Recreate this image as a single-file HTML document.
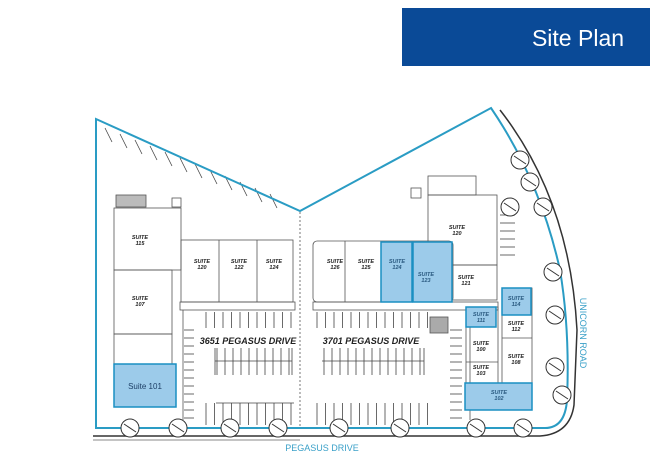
<!DOCTYPE html>
<html><head><meta charset="utf-8"><style>
html,body{margin:0;padding:0;background:#fff;width:650px;height:468px;overflow:hidden}
svg{display:block}
.s{font-family:"Liberation Sans",sans-serif;font-style:italic;font-weight:bold;font-size:5.5px;fill:#222;text-anchor:middle}
.sb{font-family:"Liberation Sans",sans-serif;font-style:italic;font-weight:bold;font-size:5.5px;fill:#2a5a80;text-anchor:middle}
</style></head><body>
<svg id="g" width="650" height="468" viewBox="0 0 650 468" xmlns="http://www.w3.org/2000/svg">
<rect x="402" y="8" width="248" height="58" fill="#0a4a97"/>
<text x="578" y="46" font-family="Liberation Sans,sans-serif" font-size="23" fill="#fff" text-anchor="middle">Site Plan</text>

<!-- outer black road edge -->
<path d="M93 436 L540 436 Q570 434 574 405 L577 330 Q570 200 500 110" fill="none" stroke="#333" stroke-width="1.5"/>
<line x1="93" y1="440" x2="300" y2="440" stroke="#888" stroke-width="1"/>

<g fill="none" stroke="#555" stroke-width="0.8">
<!-- buildings -->
<rect x="114" y="208" width="67" height="62"/>
<rect x="114" y="270" width="58" height="64"/>
<rect x="114" y="334" width="58" height="30"/>
<rect x="181" y="240" width="112" height="62"/>
<line x1="219" y1="240" x2="219" y2="302"/><line x1="257" y1="240" x2="257" y2="302"/>
<rect x="313" y="241" width="140" height="61" rx="4"/>
<line x1="345" y1="241" x2="345" y2="302"/>
<rect x="428" y="176" width="48" height="19"/>
<rect x="428" y="195" width="69" height="70"/>
<rect x="452" y="265" width="45" height="35"/>
<rect x="466" y="307" width="32" height="78"/>
<line x1="466" y1="362" x2="498" y2="362"/>
<rect x="502" y="288" width="30" height="95"/>
<line x1="502" y1="338" x2="532" y2="338"/>
<rect x="180" y="302" width="115" height="8"/>
<rect x="313" y="302" width="185" height="8"/>
<line x1="300" y1="212" x2="300" y2="428" stroke-dasharray="2,2"/>
<line x1="183" y1="310" x2="183" y2="420"/>
<line x1="470" y1="325" x2="470" y2="420"/>
<rect x="116" y="195" width="30" height="12" fill="#bbb"/>
<rect x="172" y="198" width="9" height="9"/>
<rect x="411" y="188" width="10" height="10"/>
<rect x="430" y="317" width="18" height="16" fill="#aaa"/>
</g>

<!-- blue suites -->
<g fill="#9ccbea" stroke="#1a8fc2" stroke-width="1.5">
<rect x="114" y="364" width="62" height="43"/>
<rect x="381" y="242" width="31" height="60"/>
<rect x="413" y="242" width="39" height="60"/>
<rect x="502" y="288" width="29" height="27"/>
<rect x="466" y="307" width="30" height="20"/>
<rect x="465" y="383" width="67" height="27"/>
</g>

<g id="lines" stroke="#444" stroke-width="0.8"></g>

<!-- boundary -->
<path d="M96 429 L96 119 L300 211 L491 108 Q540 180 560 270 Q570 330 567 400 Q565 428 545 428 L96 428" fill="none" stroke="#2a9cc4" stroke-width="2"/>

<g id="trees" fill="#fff" stroke="#333" stroke-width="1"></g>

<text class="s" x="140" y="239">SUITE</text><text class="s" x="140" y="245">115</text>
<text class="s" x="140" y="300">SUITE</text><text class="s" x="140" y="306">107</text>
<text class="s" x="202" y="263">SUITE</text><text class="s" x="202" y="269">120</text>
<text class="s" x="239" y="263">SUITE</text><text class="s" x="239" y="269">122</text>
<text class="s" x="274" y="263">SUITE</text><text class="s" x="274" y="269">124</text>
<text class="s" x="335" y="263">SUITE</text><text class="s" x="335" y="269">126</text>
<text class="s" x="366" y="263">SUITE</text><text class="s" x="366" y="269">125</text>
<text class="sb" x="397" y="263">SUITE</text><text class="sb" x="397" y="269">124</text>
<text class="sb" x="426" y="276">SUITE</text><text class="sb" x="426" y="282">123</text>
<text class="s" x="457" y="229">SUITE</text><text class="s" x="457" y="235">120</text>
<text class="s" x="466" y="279">SUITE</text><text class="s" x="466" y="285">121</text>
<text class="sb" x="516" y="300">SUITE</text><text class="sb" x="516" y="306">114</text>
<text class="sb" x="481" y="316">SUITE</text><text class="sb" x="481" y="322">111</text>
<text class="s" x="516" y="325">SUITE</text><text class="s" x="516" y="331">112</text>
<text class="s" x="481" y="345">SUITE</text><text class="s" x="481" y="351">100</text>
<text class="s" x="516" y="358">SUITE</text><text class="s" x="516" y="364">108</text>
<text class="s" x="481" y="369">SUITE</text><text class="s" x="481" y="375">103</text>
<text class="sb" x="499" y="394">SUITE</text><text class="sb" x="499" y="400">102</text>
<text x="145" y="389" font-family="Liberation Sans,sans-serif" font-size="8" fill="#1d3f66" text-anchor="middle">Suite 101</text>

<text x="248" y="344" font-family="Liberation Sans,sans-serif" font-style="italic" font-weight="bold" font-size="9" fill="#222" text-anchor="middle">3651 PEGASUS DRIVE</text>
<text x="371" y="344" font-family="Liberation Sans,sans-serif" font-style="italic" font-weight="bold" font-size="9" fill="#222" text-anchor="middle">3701 PEGASUS DRIVE</text>
<text x="322" y="451" font-family="Liberation Sans,sans-serif" font-size="9" fill="#3aa0c8" text-anchor="middle">PEGASUS DRIVE</text>
<text transform="translate(580,333) rotate(90)" font-family="Liberation Sans,sans-serif" font-size="9" fill="#3aa0c8" text-anchor="middle">UNICORN ROAD</text>
</svg>
<script>
var L=document.getElementById('lines'),ns='http://www.w3.org/2000/svg';
function ln(a,b,c,d){var e=document.createElementNS(ns,'line');e.setAttribute('x1',a);e.setAttribute('y1',b);e.setAttribute('x2',c);e.setAttribute('y2',d);L.appendChild(e);}
var x;
for(x=206;x<=295;x+=8.5){ln(x,312,x,328);ln(x,403,x,425);}
for(x=317;x<=430;x+=8.5){ln(x,312,x,328);ln(x,403,x,425);}
for(x=217;x<=290;x+=8){ln(x,348,x,375);}
for(x=324;x<=422;x+=8){ln(x,348,x,375);}
ln(215,361,292,361);ln(322,361,424,361);
ln(215,348,215,375);ln(292,348,292,375);ln(424,348,424,375);
ln(216,403,294,403);
for(var y=330;y<=420;y+=8){ln(184,y,194,y);ln(450,y,462,y);}
for(var i=0;i<12;i++){ln(105+i*15,128+i*6,112+i*15,142+i*6);}
for(y=215;y<=260;y+=8){ln(500,y,515,y);}
var T=document.getElementById('trees');
[[130,428],[178,428],[230,428],[278,428],[339,428],[400,428],[476,428],[523,428],[520,160],[530,182],[543,207],[510,207],[553,272],[555,315],[555,367],[562,395]].forEach(function(p){
var c=document.createElementNS(ns,'circle');c.setAttribute('cx',p[0]);c.setAttribute('cy',p[1]);c.setAttribute('r',9);T.appendChild(c);
var l=document.createElementNS(ns,'line');l.setAttribute('x1',p[0]-6);l.setAttribute('y1',p[1]-4);l.setAttribute('x2',p[0]+6);l.setAttribute('y2',p[1]+4);T.appendChild(l);});
</script>
</body></html>
